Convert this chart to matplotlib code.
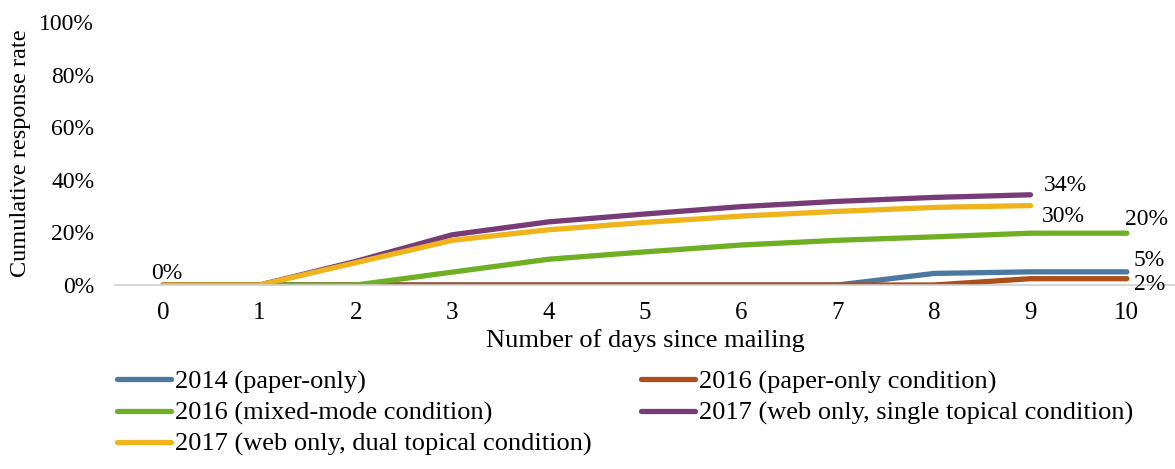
import matplotlib.pyplot as plt
from matplotlib.ticker import PercentFormatter

plt.rcParams["font.family"] = ["Liberation Serif", "DejaVu Serif"]

days = list(range(11))
labels = [
    "2014 (paper-only)",
    "2016 (paper-only condition)",
    "2016 (mixed-mode condition)",
    "2017 (web only, single topical condition)",
    "2017 (web only, dual topical condition)",
]
colors = ["#4b78a0", "#ad4f1a", "#6faf23", "#773c77", "#efb31c"]

rate_2014 = [0, 0, 0, 0, 0, 0, 0, 0, 4.4, 5.0, 5.0]
rate_2016_paper = [0, 0, 0, 0, 0, 0, 0, 0, 0, 2.4, 2.4]
rate_2016_mixed = [0, 0, 0, 4.9, 9.8, 12.6, 15.2, 17.0, 18.3, 19.7, 19.7]
rate_2017_single = [0, 0, 9.0, 19.1, 24.0, 27.0, 29.8, 31.8, 33.3, 34.3]
rate_2017_dual = [0, 0, 8.5, 17.0, 21.0, 23.8, 26.2, 28.0, 29.5, 30.2]
series = [rate_2014, rate_2016_paper, rate_2016_mixed, rate_2017_single, rate_2017_dual]

fig = plt.figure(figsize=(11.75, 4.69), dpi=100)
ax = fig.add_axes([115 / 1175, 1 - 285 / 469, (1175 - 115) / 1175, (285 - 22) / 469])

handles = []
for vals, lab, col in zip(series, labels, colors):
    (h,) = ax.plot(days[: len(vals)], vals, color=col, lw=3.8,
                   solid_capstyle="round", solid_joinstyle="round", label=lab)
    handles.append(h)

# end labels
lfs = 17
ax.annotate("0%", (0, 0), xytext=(-9, 4), textcoords="offset points", fontsize=lfs)
ax.annotate("34%", (9, rate_2017_single[-1]), xytext=(10, 3), textcoords="offset points", fontsize=lfs)
ax.annotate("30%", (9, rate_2017_dual[-1]), xytext=(8, -12), textcoords="offset points", fontsize=lfs)
ax.annotate("20%", (10, rate_2016_mixed[-1]), xytext=(-1, 6), textcoords="offset points", fontsize=lfs)
ax.annotate("5%", (10, rate_2014[-1]), xytext=(5, 4), textcoords="offset points", fontsize=lfs)
ax.annotate("2%", (10, rate_2016_paper[-1]), xytext=(5, -8), textcoords="offset points", fontsize=lfs)

ax.set_xlim(-0.5, 10.5)
ax.set_ylim(0, 100)
ax.set_xticks(days)
ax.set_yticks(range(0, 101, 20))
ax.yaxis.set_major_formatter(PercentFormatter(decimals=0))
ax.tick_params(axis="x", length=0, labelsize=18, pad=12)
ax.tick_params(axis="y", length=0, labelsize=17, pad=15)
for s in ["top", "right", "left"]:
    ax.spines[s].set_visible(False)
ax.spines["bottom"].set_color("#d0d0d0")
ax.spines["bottom"].set_linewidth(1.2)
ax.set_xlabel("Number of days since mailing", fontsize=19, labelpad=4)
ax.set_ylabel("Cumulative response rate", fontsize=17.5, labelpad=6)

order = [0, 2, 4, 1, 3]
fig.legend([handles[i] for i in order], [labels[i] for i in order],
           loc="upper left", bbox_to_anchor=(117 / 1175, 1 - 370 / 469),
           ncol=2, frameon=False, fontsize=19, handlelength=2.05,
           handletextpad=0.15, columnspacing=1.85, labelspacing=0.28,
           borderaxespad=0, borderpad=0)

fig.savefig("out.png", dpi=100)
